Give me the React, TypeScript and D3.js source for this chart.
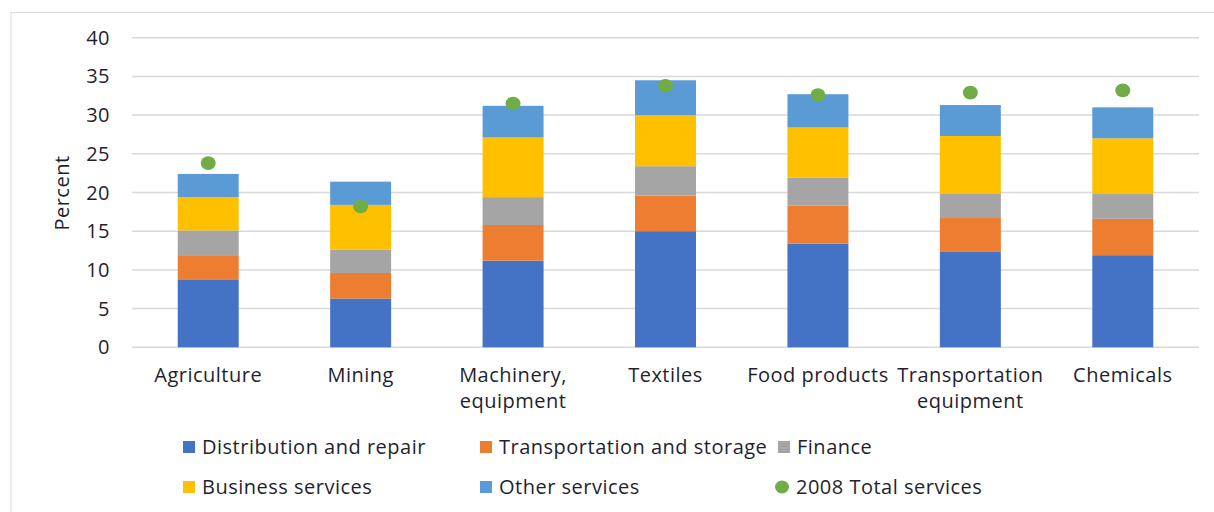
import React, { useEffect, useRef } from "react";
import * as d3 from "d3";

const categories = [
  "Agriculture",
  "Mining",
  "Machinery, equipment",
  "Textiles",
  "Food products",
  "Transportation equipment",
  "Chemicals",
];
const categoryLines = [
  ["Agriculture"],
  ["Mining"],
  ["Machinery,", "equipment"],
  ["Textiles"],
  ["Food products"],
  ["Transportation", "equipment"],
  ["Chemicals"],
];

const distribution = [8.7, 6.3, 11.2, 15.0, 13.4, 12.4, 11.9];
const transportation = [3.2, 3.3, 4.6, 4.6, 4.9, 4.3, 4.7];
const finance = [3.2, 3.0, 3.6, 3.8, 3.6, 3.2, 3.2];
const business = [4.3, 5.8, 7.7, 6.6, 6.5, 7.4, 7.2];
const other = [3.0, 3.0, 4.1, 4.5, 4.3, 4.0, 4.0];
const total2008 = [23.8, 18.2, 31.5, 33.8, 32.6, 32.9, 33.2];

const seriesNames = [
  "Distribution and repair",
  "Transportation and storage",
  "Finance",
  "Business services",
  "Other services",
];
const seriesValues = [distribution, transportation, finance, business, other];
const seriesColors = ["#4472C4", "#ED7D31", "#A5A5A5", "#FFC000", "#5B9BD5"];
const dotColor = "#70AD47";
const yTicks = [0, 5, 10, 15, 20, 25, 30, 35, 40];

const FONT = "'Open Sans', Calibri, sans-serif";
const TEXT = "#1f1f2e";

export default function App() {
  const svgRef = useRef<SVGSVGElement | null>(null);

  useEffect(() => {
    if (!svgRef.current) return;
    const svg = d3.select(svgRef.current);
    svg.selectAll("*").remove();

    // outer chart frame
    svg
      .append("rect")
      .attr("x", 11)
      .attr("y", 12.5)
      .attr("width", 1220)
      .attr("height", 520)
      .attr("fill", "#fff")
      .attr("stroke", "#d9d9d9")
      .attr("stroke-width", 1);

    const x = d3
      .scaleBand<string>()
      .domain(categories)
      .range([132, 1199])
      .paddingInner(0.6)
      .paddingOuter(0.3);

    const y = d3.scaleLinear().domain([0, 40]).range([347.3, 37.7]);

    // gridlines
    svg
      .append("g")
      .selectAll("line")
      .data(yTicks)
      .enter()
      .append("line")
      .attr("x1", 132)
      .attr("x2", 1199)
      .attr("y1", (d) => y(d))
      .attr("y2", (d) => y(d))
      .attr("stroke", "#d9d9d9")
      .attr("stroke-width", 1.5);

    // y tick labels
    svg
      .append("g")
      .selectAll("text")
      .data(yTicks)
      .enter()
      .append("text")
      .attr("x", 110)
      .attr("y", (d) => y(d))
      .attr("dy", "0.35em")
      .attr("text-anchor", "end")
      .style("font-family", FONT)
      .style("font-size", "20px")
      .style("letter-spacing", "0.5px")
      .style("fill", TEXT)
      .text((d) => d);

    svg
      .append("text")
      .attr("transform", `translate(69,193) rotate(-90)`)
      .attr("text-anchor", "middle")
      .style("font-family", FONT)
      .style("font-size", "20px")
      .style("letter-spacing", "0.5px")
      .style("fill", TEXT)
      .text("Percent");

    // stacked bars
    const rows = categories.map((c, i) => {
      const row: Record<string, number | string> = { category: c };
      seriesNames.forEach((s, j) => (row[s] = seriesValues[j][i]));
      return row;
    });
    const stacked = d3.stack<Record<string, number | string>>().keys(seriesNames)(rows);

    svg
      .append("g")
      .selectAll("g")
      .data(stacked)
      .enter()
      .append("g")
      .attr("fill", (_, i) => seriesColors[i])
      .selectAll("rect")
      .data((d) => d)
      .enter()
      .append("rect")
      .attr("x", (d) => x(d.data.category as string)!)
      .attr("width", x.bandwidth())
      .attr("y", (d) => y(d[1]))
      .attr("height", (d) => y(d[0]) - y(d[1]));

    // 2008 total dots
    svg
      .append("g")
      .selectAll("ellipse")
      .data(total2008)
      .enter()
      .append("ellipse")
      .attr("cx", (_, i) => x(categories[i])! + x.bandwidth() / 2)
      .attr("cy", (d) => y(d))
      .attr("rx", 7.5)
      .attr("ry", 6.8)
      .attr("fill", dotColor);

    // category labels
    const catG = svg
      .append("g")
      .selectAll("text")
      .data(categories)
      .enter()
      .append("text")
      .attr("text-anchor", "middle")
      .style("font-family", FONT)
      .style("font-size", "20px")
      .style("letter-spacing", "0.5px")
      .style("fill", TEXT);
    catG
      .selectAll("tspan")
      .data((_, i) => categoryLines[i].map((l) => ({ l, i })))
      .enter()
      .append("tspan")
      .attr("x", (d) => x(categories[d.i])! + x.bandwidth() / 2)
      .attr("y", (_, k) => 382 + k * 26)
      .text((d) => d.l);

    // legend
    const legendItems = [
      { name: seriesNames[0], color: seriesColors[0], x: 183, y: 447, dot: false },
      { name: seriesNames[1], color: seriesColors[1], x: 480, y: 447, dot: false },
      { name: seriesNames[2], color: seriesColors[2], x: 778, y: 447, dot: false },
      { name: seriesNames[3], color: seriesColors[3], x: 183, y: 487, dot: false },
      { name: seriesNames[4], color: seriesColors[4], x: 480, y: 487, dot: false },
      { name: "2008 Total services", color: dotColor, x: 776, y: 487, dot: true },
    ];
    const lg = svg
      .append("g")
      .selectAll("g")
      .data(legendItems)
      .enter()
      .append("g")
      .attr("transform", (d) => `translate(${d.x},${d.y})`);
    lg.filter((d) => !d.dot)
      .append("rect")
      .attr("x", 0)
      .attr("y", -6)
      .attr("width", 12)
      .attr("height", 12)
      .attr("fill", (d) => d.color);
    lg.filter((d) => d.dot)
      .append("ellipse")
      .attr("cx", 6)
      .attr("cy", 0)
      .attr("rx", 7)
      .attr("ry", 6.5)
      .attr("fill", (d) => d.color);
    lg.append("text")
      .attr("x", (d) => (d.dot ? 20 : 19))
      .attr("y", 0)
      .attr("dy", "0.35em")
      .style("font-family", FONT)
      .style("font-size", "20px")
      .style("letter-spacing", "0.5px")
      .style("fill", TEXT)
      .text((d) => d.name);
  }, []);

  return (
    <svg
      ref={svgRef}
      width={1214}
      height={512}
      style={{ position: "absolute", left: 0, top: 0, background: "#fff" }}
    ></svg>
  );
}
